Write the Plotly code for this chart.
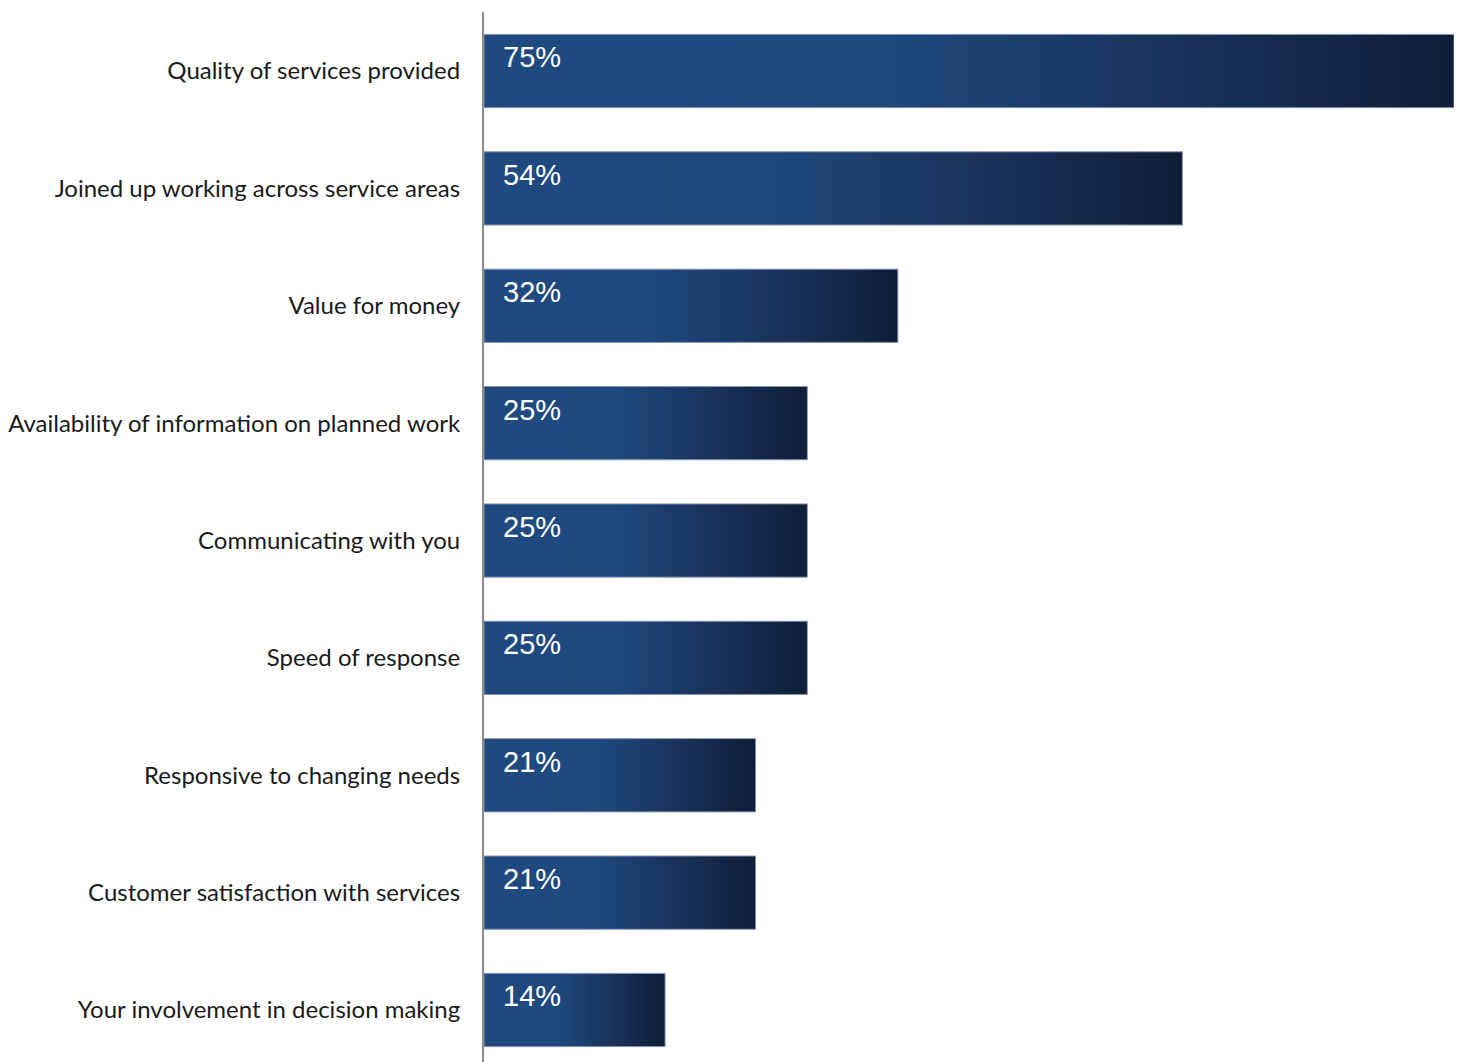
import plotly.graph_objects as go

categories = [
    "Quality of services provided",
    "Joined up working across service areas",
    "Value for money",
    "Availability of information on planned work",
    "Communicating with you",
    "Speed of response",
    "Responsive to changing needs",
    "Customer satisfaction with services",
    "Your involvement in decision making",
]
values = [75, 54, 32, 25, 25, 25, 21, 21, 14]
value_labels = ["75%", "54%", "32%", "25%", "25%", "25%", "21%", "21%", "14%"]

half = 0.312  # half bar thickness in category units
gradient = [[0, "#1f4a80"], [0.4, "#1e4a7e"], [0.75, "#182f56"], [1, "#0f1e38"]]

fig = go.Figure()
for i, (c, v) in enumerate(zip(categories, values)):
    fig.add_trace(go.Scatter(
        x=[0, v, v, 0, 0],
        y=[i - half, i - half, i + half, i + half, i - half],
        mode="lines",
        fill="toself",
        fillgradient=dict(type="horizontal", colorscale=gradient),
        line=dict(color="#8796b0", width=1),
        hoverinfo="skip",
        showlegend=False,
    ))
    fig.add_annotation(
        x=0, y=i - half, xref="x", yref="y",
        text=value_labels[i], showarrow=False,
        xanchor="left", yanchor="top", xshift=17, yshift=-5,
        font=dict(family="Liberation Sans, Arial", size=29, color="white"),
    )

fig.update_layout(
    width=1460, height=1062,
    margin=dict(l=484, r=6, t=12, b=0),
    paper_bgcolor="white", plot_bgcolor="white",
    xaxis=dict(range=[0, 75], visible=False, showgrid=False, zeroline=False),
    yaxis=dict(
        range=[8.443, -0.503],
        tickvals=list(range(len(categories))),
        ticktext=categories,
        showgrid=False, zeroline=False,
        showline=True, linecolor="#8c8c8c", linewidth=2,
        ticks="outside", ticklen=17, tickcolor="rgba(0,0,0,0)",
        tickfont=dict(family="Lato, Open Sans, sans-serif", size=24, color="#1a1a1a"),
    ),
)

fig.write_html("out.html")
